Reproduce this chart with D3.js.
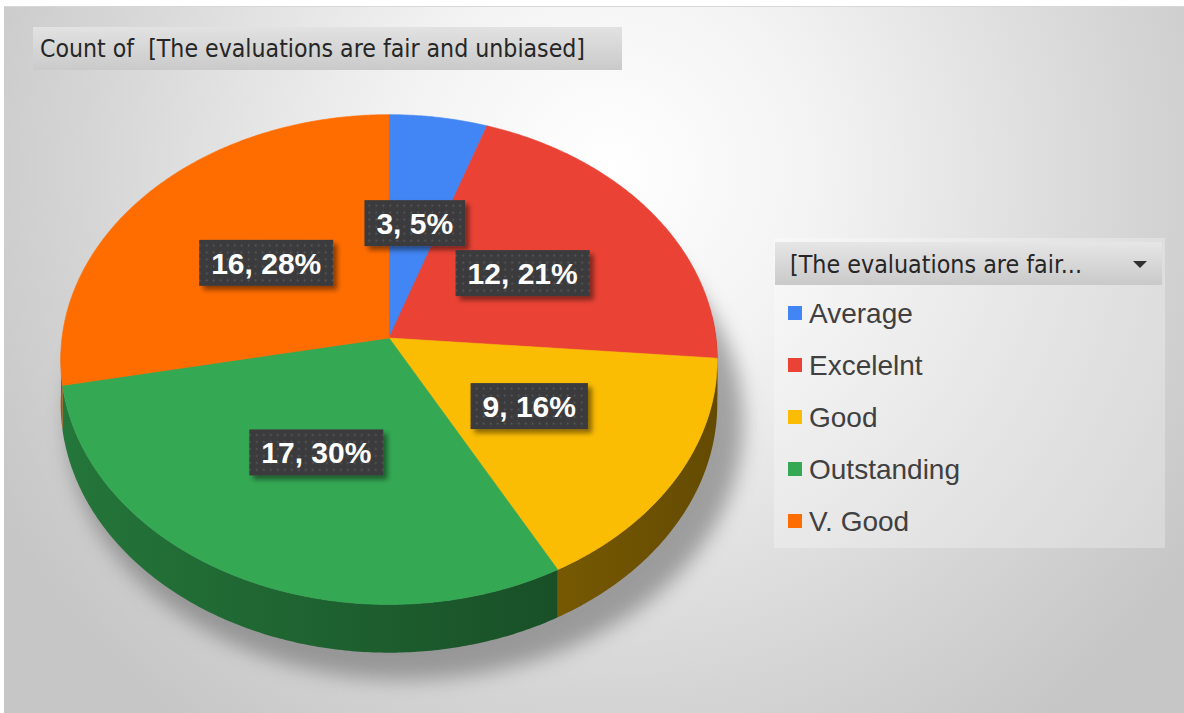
<!DOCTYPE html>
<html>
<head>
<meta charset="utf-8">
<script src="https://cdn.jsdelivr.net/npm/d3@7"></script>
<style>
  html, body { margin: 0; padding: 0; background: #fff; }
  svg { display: block; }
</style>
</head>
<body>
<svg id="chart" width="1184" height="713"></svg>
<script>
// data
var categories = ['Average', 'Excelelnt', 'Good', 'Outstanding', 'V. Good'];
var counts = [3, 12, 9, 17, 16];
var colors = ['#4285f4', '#ea4335', '#fbbc04', '#34a853', '#ff6d01'];
var titleText = 'Count of  [The evaluations are fair and unbiased]';
var legendTitle = '[The evaluations are fair...';

var W = 1184, H = 713;
var svg = d3.select('#chart');
var defs = svg.append('defs');

// pie geometry (3d tilted disc with a bit of perspective)
var cx = 389, cy = 338, rx = 327, ry = 243, persp = 0.088, depth = 44;

function proj(a, r, w) {
	var u = r * Math.sin(a), v = r * Math.cos(a);
	var d = 1 + persp * v;
	return [cx + rx * u / d, cy + (-ry * v + depth * w) / d];
}

// background
var bg = defs.append('radialGradient')
  .attr('id', 'bg')
  .attr('gradientUnits', 'userSpaceOnUse')
  .attr('cx', 610).attr('cy', 170).attr('r', 700);
bg.append('stop').attr('offset', 0).attr('stop-color', '#ffffff');
bg.append('stop').attr('offset', 0.3).attr('stop-color', '#f3f3f3');
bg.append('stop').attr('offset', 0.75).attr('stop-color', '#d5d5d5');
bg.append('stop').attr('offset', 1).attr('stop-color', '#c6c6c6');

svg.append('rect')
  .attr('x', 4).attr('y', 6)
  .attr('width', W - 4).attr('height', H - 6)
  .attr('fill', 'url(#bg)');
svg.append('line')
  .attr('x1', 4).attr('x2', W).attr('y1', 6.5).attr('y2', 6.5)
  .attr('stroke', '#d8d8d8').attr('stroke-width', 1);

// title box
var tg = defs.append('linearGradient').attr('id', 'tbox')
  .attr('x1', 0).attr('x2', 0).attr('y1', 0).attr('y2', 1);
tg.append('stop').attr('offset', 0).attr('stop-color', '#e2e2e2');
tg.append('stop').attr('offset', 1).attr('stop-color', '#cacaca');

svg.append('rect')
  .attr('x', 33).attr('y', 27).attr('width', 589).attr('height', 43)
  .attr('fill', 'url(#tbox)');
svg.append('text')
  .attr('x', 40).attr('y', 57)
  .style('white-space', 'pre')
  .attr('font-family', '"Liberation Sans Narrow", "DejaVu Sans Condensed", "Open Sans", sans-serif')
  .attr('font-size', 24)
  .attr('fill', '#262626')
  .attr('textLength', 545)
  .attr('lengthAdjust', 'spacingAndGlyphs')
  .text(titleText);

// shadow under pie
var blur = defs.append('filter').attr('id', 'blur')
  .attr('x', '-20%').attr('y', '-20%').attr('width', '140%').attr('height', '140%');
blur.append('feGaussianBlur').attr('stdDeviation', 10);

var line = d3.line();
var ring = d3.range(0, 361, 2).map(function(d) { return proj(d * Math.PI / 180, 1.03, 1.25); });
svg.append('path')
  .attr('d', line(ring) + 'Z')
  .attr('transform', 'translate(16,6)')
  .attr('fill', '#6e6e6e')
  .attr('opacity', 0.6)
  .attr('filter', 'url(#blur)');

// pie layout
var pie = d3.pie().sort(null).startAngle(0).endAngle(2 * Math.PI);
var arcs = pie(counts);
var total = d3.sum(counts);

function arcPoints(a0, a1, r, w) {
	var n = Math.max(2, Math.ceil((a1 - a0) / 0.01));
	return d3.range(n + 1).map(function(i) { return proj(a0 + (a1 - a0) * i / n, r, w); });
}

// side walls (front half only, top faces go over them)
var walls = svg.append('g');
arcs.forEach(function(d, i) {
	var a0 = Math.max(d.startAngle, Math.PI / 2 - 0.1);
	var a1 = Math.min(d.endAngle, 3 * Math.PI / 2 - 0.05);
	if (a1 <= a0) return;
	var c = d3.color(colors[i]);
	var g = defs.append('linearGradient').attr('id', 'wall' + i)
	  .attr('gradientUnits', 'userSpaceOnUse')
	  .attr('x1', cx - rx).attr('x2', cx + rx).attr('y1', 0).attr('y2', 0);
	var k0 = 0.7, k1 = 0.4;
	g.append('stop').attr('offset', 0)
	  .attr('stop-color', d3.rgb(c.r * k0, c.g * k0, c.b * k0));
	g.append('stop').attr('offset', 1)
	  .attr('stop-color', d3.rgb(c.r * k1, c.g * k1, c.b * k1));
	var pts = arcPoints(a0, a1, 1, 0).concat(arcPoints(a0, a1, 1, 1).reverse());
	walls.append('path')
	  .attr('d', line(pts) + 'Z')
	  .attr('fill', 'url(#wall' + i + ')');
});

// top faces
var tops = svg.append('g');
arcs.forEach(function(d, i) {
	var pts = [proj(0, 0, 0)].concat(arcPoints(d.startAngle, d.endAngle, 1, 0));
	tops.append('path')
	  .attr('d', line(pts) + 'Z')
	  .attr('fill', colors[i])
	  .attr('stroke', colors[i])
	  .attr('stroke-width', 0.6);
});

// data labels
var dots = defs.append('pattern').attr('id', 'dots')
  .attr('patternUnits', 'userSpaceOnUse')
  .attr('width', 7).attr('height', 7);
dots.append('rect').attr('width', 7).attr('height', 7).attr('fill', '#3b3b3d');
dots.append('circle').attr('cx', 3.5).attr('cy', 3.5).attr('r', 0.9).attr('fill', '#5c5c5e');

var ds = defs.append('filter').attr('id', 'lshadow')
  .attr('x', '-20%').attr('y', '-20%').attr('width', '150%').attr('height', '160%');
ds.append('feDropShadow')
  .attr('dx', 4).attr('dy', 4).attr('stdDeviation', 2.5)
  .attr('flood-color', '#000').attr('flood-opacity', 0.45);

var labels = svg.append('g');
arcs.forEach(function(d, i) {
	var mid = (d.startAngle + d.endAngle) / 2;
	var p = proj(mid, 0.5, 0);
	var pct = Math.round(d.value / total * 100);
	var g = labels.append('g').attr('transform', 'translate(' + p[0] + ',' + p[1] + ')');
	var box = g.append('rect');
	var t = g.append('text')
	  .attr('text-anchor', 'middle')
	  .attr('dy', '0.36em')
	  .attr('font-family', '"Liberation Sans", Arial, sans-serif')
	  .attr('font-weight', 'bold')
	  .attr('font-size', 30)
	  .attr('fill', '#ffffff')
	  .text(d.value + ', ' + pct + '%');
	var tw = t.node().getComputedTextLength();
	box.attr('x', -tw / 2 - 12).attr('y', -23)
	  .attr('width', tw + 24).attr('height', 46)
	  .attr('fill', 'url(#dots)')
	  .attr('filter', 'url(#lshadow)');
});

// legend
var lx = 774, ly = 238;
svg.append('rect')
  .attr('x', lx).attr('y', ly).attr('width', 391).attr('height', 310)
  .attr('fill', '#ffffff').attr('opacity', 0.28);

var hg = defs.append('linearGradient').attr('id', 'lhead')
  .attr('x1', 0).attr('x2', 0).attr('y1', 0).attr('y2', 1);
hg.append('stop').attr('offset', 0).attr('stop-color', '#e6e6e6');
hg.append('stop').attr('offset', 1).attr('stop-color', '#c9c9c9');

svg.append('rect')
  .attr('x', 775).attr('y', 242).attr('width', 387).attr('height', 43)
  .attr('fill', 'url(#lhead)');
svg.append('text')
  .attr('x', 790).attr('y', 273)
  .attr('font-family', '"Liberation Sans Narrow", "DejaVu Sans Condensed", "Open Sans", sans-serif')
  .attr('font-size', 24)
  .attr('fill', '#262626')
  .attr('textLength', 292)
  .attr('lengthAdjust', 'spacingAndGlyphs')
  .text(legendTitle);
svg.append('path')
  .attr('d', 'M1133,261 L1147,261 L1140,268 Z')
  .attr('fill', '#303030');

var ly0 = 313, lstep = 52;
var items = svg.append('g').selectAll('g')
  .data(categories)
  .enter().append('g')
  .attr('transform', function(d, i) { return 'translate(788,' + (ly0 + i * lstep) + ')'; });
items.append('rect')
  .attr('x', 0).attr('y', -7).attr('width', 14).attr('height', 14)
  .attr('fill', function(d, i) { return colors[i]; });
items.append('text')
  .attr('x', 21).attr('dy', '0.36em')
  .attr('font-family', '"Liberation Sans", Arial, sans-serif')
  .attr('font-size', 28)
  .attr('fill', '#404040')
  .text(function(d) { return d; });
</script>
</body>
</html>
